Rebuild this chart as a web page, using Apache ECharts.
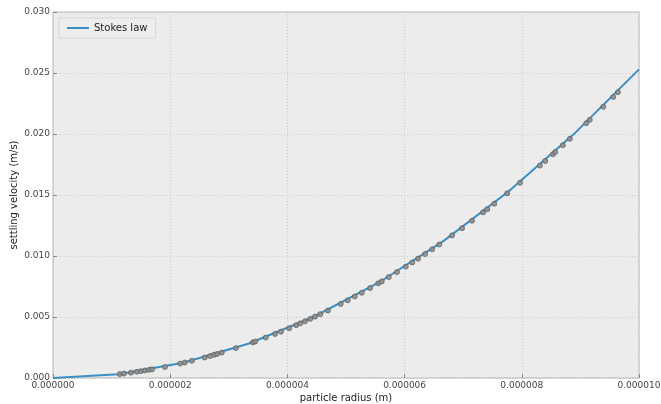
<!DOCTYPE html>
<html><head><meta charset="utf-8">
<script src="https://cdn.jsdelivr.net/npm/echarts@6/dist/echarts.min.js"></script>
<style>html,body{margin:0;padding:0;background:#fff}#c{width:661px;height:404px}</style>
</head><body><div id="c"></div>
<script>
// Stokes law curve (sampled)
const lineR = [0, 1.111e-6, 2.222e-6, 3.333e-6, 4.444e-6, 5.556e-6, 6.667e-6, 7.778e-6, 8.889e-6, 1.0e-5];
const lineV = [0, 0.000312, 0.00125, 0.00281, 0.00500, 0.00781, 0.01124, 0.01531, 0.01999, 0.0253];
// Measured points (radius in m, velocity in m/s)
const ptR = [1.14e-6,1.21e-6,1.33e-6,1.43e-6,1.50e-6,1.57e-6,1.64e-6,1.69e-6,1.91e-6,2.17e-6,2.25e-6,2.37e-6,2.59e-6,2.68e-6,2.75e-6,2.80e-6,2.88e-6,3.12e-6,3.41e-6,3.45e-6,3.63e-6,3.79e-6,3.89e-6,4.03e-6,4.15e-6,4.22e-6,4.30e-6,4.39e-6,4.47e-6,4.56e-6,4.69e-6,4.91e-6,5.03e-6,5.15e-6,5.27e-6,5.41e-6,5.55e-6,5.61e-6,5.73e-6,5.87e-6,6.02e-6,6.13e-6,6.23e-6,6.35e-6,6.47e-6,6.59e-6,6.81e-6,6.98e-6,7.15e-6,7.34e-6,7.41e-6,7.53e-6,7.75e-6,7.97e-6,8.31e-6,8.40e-6,8.53e-6,8.57e-6,8.70e-6,8.82e-6,9.10e-6,9.16e-6,9.39e-6,9.56e-6,9.64e-6];
const ptV = [0.00032,0.00036,0.00044,0.00051,0.00056,0.00062,0.00067,0.00071,0.00091,0.00118,0.00127,0.00141,0.00168,0.00180,0.00190,0.00197,0.00208,0.00245,0.00292,0.00299,0.00331,0.00361,0.00380,0.00408,0.00433,0.00448,0.00465,0.00485,0.00503,0.00523,0.00553,0.00607,0.00637,0.00668,0.00699,0.00737,0.00776,0.00792,0.00827,0.00868,0.00913,0.00947,0.00978,0.01016,0.01055,0.01094,0.01169,0.01228,0.01289,0.01358,0.01384,0.01429,0.01514,0.01601,0.01741,0.01779,0.01834,0.01852,0.01908,0.01961,0.02088,0.02116,0.02223,0.02304,0.02343];
const xTicks = {min: 0, max: 1e-5, interval: 2e-6};
const yTicks = {min: 0, max: 0.03, interval: 0.005};

const chart = echarts.init(document.getElementById('c'));
const font = "'DejaVu Sans', sans-serif";
chart.setOption({
  animation: false,
  grid: {left: 53, right: 22, top: 12, bottom: 26, containLabel: false, outerBoundsMode: 'none',
         show: true, backgroundColor: '#ececec', borderColor: '#b5b5b5', borderWidth: 1},
  legend: {
    left: 59, top: 18, padding: [5, 8, 5, 8], backgroundColor: '#eeeeee', borderColor: '#d6d6d6', borderWidth: 1,
    itemWidth: 22, itemHeight: 2, icon: 'rect',
    textStyle: {fontFamily: font, fontSize: 10, color: '#222'},
    data: ['Stokes law']
  },
  xAxis: {
    type: 'value', min: xTicks.min, max: xTicks.max, interval: xTicks.interval,
    name: 'particle radius (m)', nameLocation: 'middle', nameGap: 15, nameMoveOverlap: false,
    nameTextStyle: {fontFamily: font, fontSize: 10, color: '#222'},
    axisLine: {show: false},
    axisTick: {show: true, inside: true, length: 4, lineStyle: {color: '#888'}},
    axisLabel: {fontFamily: font, fontSize: 9, color: '#444', margin: 3, formatter: v => v.toFixed(6)},
    splitLine: {show: true, lineStyle: {color: '#cccccc', type: [1, 2], width: 1}}
  },
  yAxis: {
    type: 'value', min: yTicks.min, max: yTicks.max, interval: yTicks.interval,
    name: 'settling velocity (m/s)', nameLocation: 'middle', nameGap: 34, nameRotate: 90, nameMoveOverlap: false,
    nameTextStyle: {fontFamily: font, fontSize: 10, color: '#222'},
    axisLine: {show: false},
    axisTick: {show: true, inside: true, length: 4, lineStyle: {color: '#888'}},
    axisLabel: {fontFamily: font, fontSize: 9, color: '#444', margin: 3, formatter: v => v.toFixed(3)},
    splitLine: {show: true, lineStyle: {color: '#cccccc', type: [1, 2], width: 1}}
  },
  series: [
    {name: 'Stokes law', type: 'line', data: lineR.map((r, i) => [r, lineV[i]]), symbol: 'none', smooth: false,
     lineStyle: {color: '#3a8fc4', width: 2}, itemStyle: {color: '#3a8fc4'}, z: 2},
    {name: 'data', type: 'scatter', data: ptR.map((r, i) => [r, ptV[i]]), symbol: 'circle', symbolSize: 5,
     itemStyle: {color: '#8e8e8e', borderColor: '#5a5a5a', borderWidth: 0.8, opacity: 0.9}, z: 3}
  ]
});
</script></body></html>
